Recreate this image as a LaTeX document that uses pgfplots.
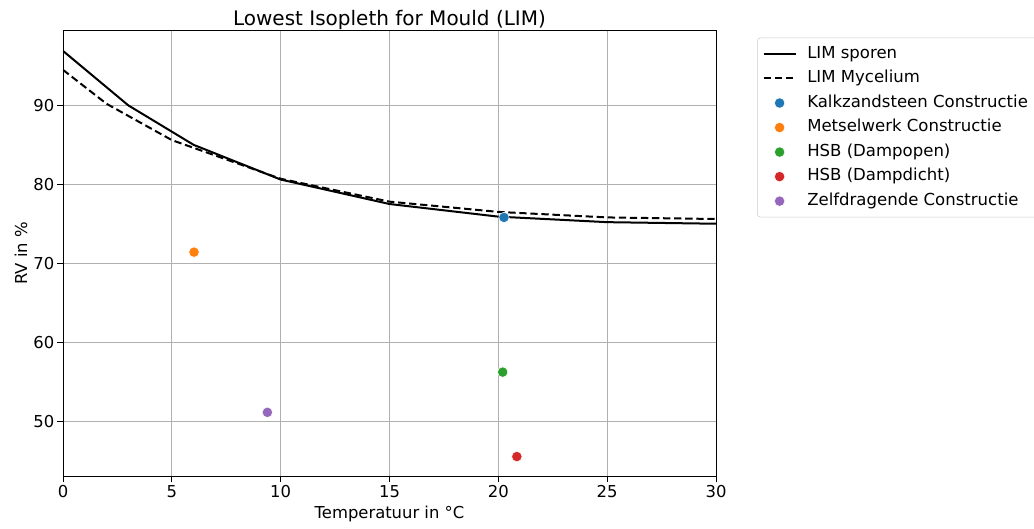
\documentclass[border=0pt]{standalone}
\usepackage{pgfplots}
\pgfplotsset{compat=1.18}
\usepackage{fontspec}
\setmainfont{DejaVu Sans}
\definecolor{tabblue}{HTML}{1F77B4}
\definecolor{taborange}{HTML}{FF7F0E}
\definecolor{tabgreen}{HTML}{2CA02C}
\definecolor{tabred}{HTML}{D62728}
\definecolor{tabpurple}{HTML}{9467BD}
\definecolor{gridgray}{HTML}{B0B0B0}
\pgfplotsset{
  lineleg/.style={legend image code/.code={\draw[##1] (0pt,0pt) -- (24pt,0pt);}},
  dotleg/.style={legend image code/.code={\draw[##1] plot coordinates {(12pt,0pt)};}},
  dot/.style={only marks, mark=*, mark size=3.9pt, mark options={fill=#1, draw=white, line width=0.4pt}, dotleg},
}
\begin{document}
\begin{tikzpicture}
\begin{axis}[
  at={(0,0)}, anchor=south west,
  scale only axis,
  width=489.75pt, height=335pt,
  xmin=0, xmax=30, ymin=42.95, ymax=99.55,
  xtick={0,5,10,15,20,25,30},
  ytick={50,60,70,80,90},
  grid=major,
  major grid style={gridgray, line width=0.6pt},
  axis line style={black, line width=0.6pt},
  tick align=outside,
  major tick length=4.3pt,
  tick style={black, line width=0.6pt},
  xtick pos=bottom, ytick pos=left,
  /pgf/number format/assume math mode=true,
  tick label style={font=\fontsize{12.3}{14}\selectfont},
  xticklabel style={inner sep=0pt, yshift=-2pt},
  yticklabel style={inner sep=0pt, xshift=-2pt},
  title={Lowest Isopleth for Mould (LIM)},
  title style={at={(axis description cs:0.5,1)}, anchor=south, inner sep=0pt, yshift=-5.8pt, font=\fontsize{15}{18}\selectfont},
  xlabel={Temperatuur in °C},
  xlabel style={at={(axis description cs:0.5,0)}, anchor=base, yshift=-31.7pt, font=\fontsize{12.3}{14}\selectfont},
  ylabel={RV in \%},
  ylabel style={at={(axis description cs:-0.0643,0.5)}, anchor=center, font=\fontsize{12.3}{14}\selectfont},
  legend style={at={(axis description cs:1.0628,0.9828)}, anchor=north west,
    draw=black!20, rounded corners=2.5pt, fill=white,
    font=\fontsize{12.4}{14}\selectfont,
    inner xsep=4pt, inner ysep=5pt, row sep=4.4pt,
    nodes={inner xsep=8pt, inner ysep=1pt, text height=9.2pt, text depth=2.8pt},
    cells={anchor=west}},
  legend cell align=left,
]
\addplot[black, line width=1.5pt, lineleg] coordinates {
 (0,96.9) (3,90.0) (6,85.0) (10,80.6) (15,77.5) (20,75.9) (25,75.2) (30,75.0)};
\addlegendentry{LIM sporen}
\addplot[black, line width=1.5pt, dash pattern=on 5.5pt off 2.8pt, lineleg] coordinates {
 (0,94.5) (2,90.2) (5,85.6) (10,80.7) (15,77.8) (20,76.5) (25,75.8) (30,75.6)};
\addlegendentry{LIM Mycelium}
\addplot[dot=tabblue] coordinates {(20.26,75.8)};
\addlegendentry{Kalkzandsteen Constructie}
\addplot[dot=taborange] coordinates {(6.02,71.4)};
\addlegendentry{Metselwerk Constructie}
\addplot[dot=tabgreen] coordinates {(20.2,56.2)};
\addlegendentry{HSB (Dampopen)}
\addplot[dot=tabred] coordinates {(20.85,45.5)};
\addlegendentry{HSB (Dampdicht)}
\addplot[dot=tabpurple] coordinates {(9.39,51.1)};
\addlegendentry{Zelfdragende Constructie}
\end{axis}
\pgfresetboundingbox
\useasboundingbox (-47.25pt,-39.2pt) rectangle (728.25pt,357.5pt);
\end{tikzpicture}
\end{document}
